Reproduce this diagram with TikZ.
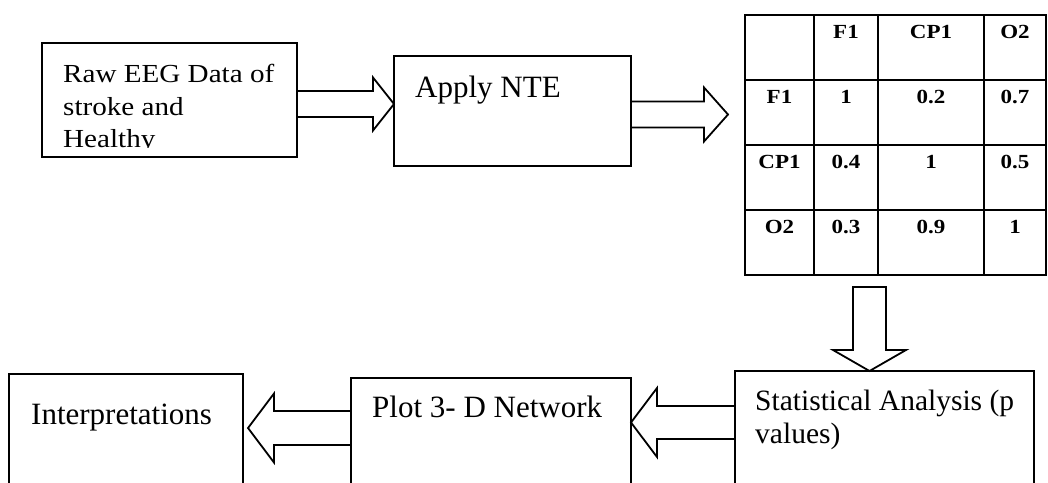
\documentclass[tikz,border=0pt]{standalone}
\usepackage{fontspec}
\setmainfont{Liberation Serif}
\newfontfamily\widefont[FakeStretch=1.12]{Liberation Serif}
\newfontfamily\tabfont[FakeStretch=1.15]{Liberation Serif}
\usepackage{tikz}
\usetikzlibrary{
    calc,
    matrix
}

\newcommand{\blockarrow}[5]{%
    \draw[blockarrow] let \p1=(#1), \p2=(#2),
        \n1={veclen(\x2-\x1,\y2-\y1)}, \n2={atan2(\y2-\y1,\x2-\x1)} in
        [shift={(\p1)}, rotate=\n2]
        (0pt,#3) -- (\n1-#5,#3) -- (\n1-#5,#4) -- (\n1,0pt)
        -- (\n1-#5,-#4) -- (\n1-#5,-#3) -- (0pt,-#3) -- cycle;
}

\begin{document}
\begin{tikzpicture}[
        x=1pt, y=-1pt,
        box/.style={
            rectangle,
            draw,
            line width=1.8pt,
            inner sep=0pt,
            outer sep=0pt,
            anchor=north west
        },
        boxtext/.style={
            inner sep=0pt,
            align=left
        },
        cell/.style={
            rectangle,
            inner sep=0pt,
            outer sep=0pt,
            text height=23pt,
            text depth=42pt,
            font=\tabfont\bfseries\fontsize{20}{20}\selectfont
        },
        grid/.style={
            line width=1.8pt,
            line cap=rect
        },
        blockarrow/.style={
            draw,
            fill=white,
            line width=1.8pt,
            line join=miter
        }
    ]

    \useasboundingbox[fill=white] (0,0) rectangle (1048,482);
    \clip (0,0) rectangle (1048,482);

    \node[box, minimum width=255pt, minimum height=114pt] (raw) at (42,43) {};
    \node[box, minimum width=237pt, minimum height=110pt] (nte) at (394,56) {};
    \node[box, minimum width=299pt, minimum height=140pt] (stat) at (735,371) {};
    \node[box, minimum width=280pt, minimum height=140pt] (plot) at (351,378) {};
    \node[box, minimum width=234pt, minimum height=140pt] (interp) at (9,374) {};

    \matrix[
        matrix of nodes,
        nodes in empty cells,
        anchor=north west,
        inner sep=0pt,
        outer sep=0pt,
        column sep=0pt,
        row sep=0pt,
        nodes={cell},
        column 1/.style={nodes={minimum width=69pt}},
        column 2/.style={nodes={minimum width=64pt}},
        column 3/.style={nodes={minimum width=106pt}},
        column 4/.style={nodes={minimum width=62pt}}
    ] (tab) at (745,15) {
            & F1  & CP1 & O2  \\
        F1  & 1   & 0.2 & 0.7 \\
        CP1 & 0.4 & 1   & 0.5 \\
        O2  & 0.3 & 0.9 & 1   \\
    };
    \draw[grid] (tab-1-1.north west) rectangle (tab-4-4.south east);
    \foreach \c in {1,2,3}
        \draw[grid] (tab-1-\c.north east) -- (tab-4-\c.south east);
    \foreach \r in {1,2,3}
        \draw[grid] (tab-\r-1.south west) -- (tab-\r-4.south east);

    \begin{scope}
        \clip (raw.north west) rectangle ([yshift=10pt]raw.south east);
        \node[boxtext, anchor=north west, font=\widefont\fontsize{26}{32.5}\selectfont]
            (rawtext) at ([shift={(21pt,-21pt)}]raw.north west)
            {Raw EEG Data of\\stroke and\\Healthy};
    \end{scope}
    \node[boxtext, anchor=base west, font=\fontsize{31}{36}\selectfont]
        (ntetext) at ([shift={(21pt,-41pt)}]nte.north west) {Apply NTE};
    \node[boxtext, anchor=north west, font=\fontsize{29.5}{33}\selectfont]
        (stattext) at ([shift={(20pt,-19pt)}]stat.north west)
        {Statistical Analysis (p\\values)};
    \node[boxtext, anchor=base west, font=\fontsize{31}{36}\selectfont]
        (plottext) at ([shift={(21pt,-39pt)}]plot.north west) {Plot 3- D Network};
    \node[boxtext, anchor=base west, font=\fontsize{31}{36}\selectfont]
        (interptext) at ([shift={(22pt,-50pt)}]interp.north west) {Interpretations};

    \coordinate (a1) at ([yshift=-4pt]raw.east);
    \coordinate (a2) at ([yshift=-3.5pt]nte.east);
    \coordinate (a2tip) at ([xshift=-17pt]a2 -| tab.west);
    \coordinate (a5) at (869.5,287);
    \coordinate (a3) at ([yshift=-51.5pt]stat.north west);
    \coordinate (a4) at ([yshift=-50pt]plot.north west);
    \coordinate (a4tip) at ([xshift=5pt]a4 -| interp.east);

    \blockarrow{a1}{a1 -| nte.west}{13pt}{26.5pt}{21pt}
    \blockarrow{a2}{a2tip}{13pt}{27pt}{24pt}
    \blockarrow{a5}{a5 |- stat.north}{16.5pt}{36.5pt}{21pt}
    \blockarrow{a3}{a3 -| plot.east}{16.5pt}{34.5pt}{26pt}
    \blockarrow{a4}{a4tip}{17pt}{34.5pt}{26pt}

\end{tikzpicture}
\end{document}
